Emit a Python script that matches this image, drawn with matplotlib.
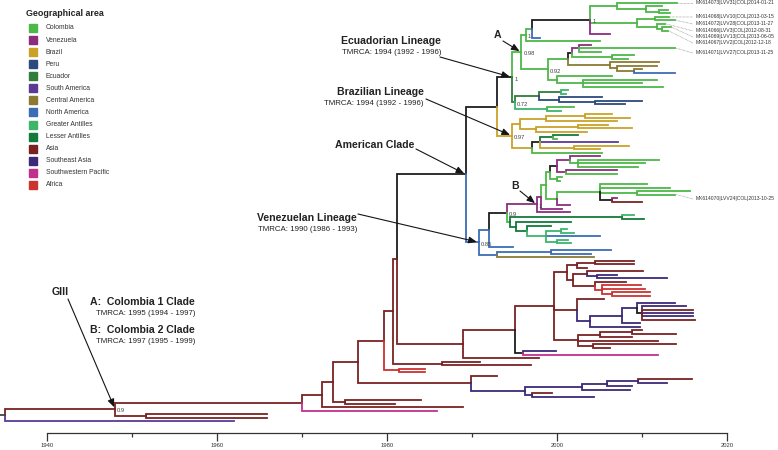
import matplotlib
matplotlib.use("Agg")
import matplotlib.pyplot as plt
from matplotlib.collections import LineCollection
from matplotlib.patches import Rectangle

plt.rcParams['font.family'] = ['Liberation Sans', 'DejaVu Sans']

# legend / region colours
region_names = ['Colombia', 'Venezuela', 'Brazil', 'Peru', 'Ecuador', 'South America',
                'Central America', 'North America', 'Greater Antilles', 'Lesser Antilles',
                'Asia', 'Southeast Asia', 'Southwestern Pacific', 'Africa']
region_codes = ['COL', 'VEN', 'BRA', 'PER', 'ECU', 'SAM', 'CAM', 'NAM', 'GAN', 'LAN',
                'ASI', 'SEA', 'SWP', 'AFR']
region_colors = ['#4db848', '#8b2d7d', '#c9a227', '#2c4a7c', '#2e7d3b', '#5b3a96',
                 '#8c7a32', '#3a6db5', '#3db56b', '#127a3a', '#7a2222', '#3a2a78',
                 '#c2308e', '#cc3330']
col = dict(zip(region_codes, region_colors))
col['UNK'] = '#1e1e1e'


def T(year, c, tip=None):
    return {'t': year, 'c': c, 'kids': [], 'lab': None, 'name': None, 'tip': tip}


def N(year, c, *kids, lab=None, name=None):
    return {'t': year, 'c': c, 'kids': list(kids), 'lab': lab, 'name': name, 'tip': None}


# ---- tree (node dates in years, branch colour = region) ----
clade_A = N(1995.8, 'COL',
    N(1996.3, 'COL',
        N(1997.0, 'COL',
            N(2003.9, 'UNK',
                N(2007.0, 'COL',
                    T(2014.1, 'COL', tip='MK614073|LVV31|COL|2014-01-21'),
                    N(2010.5, 'COL',
                        T(2012.3, 'COL'),
                        N(2012.0, 'COL', T(2013.0, 'COL'), T(2013.3, 'COL')))),
                N(2009.4, 'COL',
                    N(2011.5, 'COL',
                        T(2013.2, 'COL', tip='MK614068|LVV10|COL|2013-03-15'),
                        T(2013.9, 'COL', tip='MK614072|LVV28|COL|2013-11-27')),
                    N(2011.8, 'COL',
                        T(2012.7, 'COL', tip='MK614066|LVV3|COL|2012-08-31'),
                        N(2012.3, 'COL',
                            T(2013.4, 'COL', tip='MK614069|LVV13|COL|2013-06-05'),
                            T(2013.0, 'COL', tip='MK614067|LVV2|COL|2012-12-18')))),
                T(2006.2, 'VEN'), lab='1'),
            T(1998.0, 'NAM')),
        T(2005.0, 'COL'), lab='1'),
    N(1998.9, 'COL',
        N(2001.3, 'COL',
            N(2001.8, 'UNK',
                N(2002.6, 'VEN',
                    T(2004.0, 'VEN'),
                    T(2013.9, 'COL', tip='MK614071|LVV27|COL|2013-11-25'),
                    T(2005.2, 'COL')),
                N(2006.5, 'COL', T(2009.0, 'COL'), T(2008.3, 'COL'))),
            N(2006.2, 'CAM',
                T(2012.0, 'CAM'),
                N(2007.0, 'CAM',
                    T(2011.8, 'CAM'),
                    N(2009.0, 'CAM', T(2010.0, 'CAM'), T(2013.9, 'NAM'))))),
        N(2000.0, 'COL',
            T(2006.5, 'COL'),
            N(2003.0, 'COL', T(2011.8, 'COL'), T(2010.0, 'COL'), T(2012.5, 'COL'))),
        lab='0.92'),
    lab='0.98', name='A')

ecu_sub = N(1995.0, 'ECU',
    N(1997.9, 'ECU',
        N(2000.5, 'ECU', T(2001.3, 'GAN'), T(2001.0, 'GAN')),
        N(2000.2, 'PER', T(2005.3, 'PER'),
          N(2004.5, 'PER', T(2010.0, 'PER'), T(2008.0, 'PER')))),
    N(1998.8, 'GAN', T(2002.0, 'COL'), T(2000.5, 'GAN')),
    lab='0.72')

brazil = N(1994.7, 'BRA',
    N(1995.7, 'BRA',
        N(1998.7, 'BRA',
            N(2003.3, 'BRA', T(2006.5, 'BRA'), T(2008.6, 'BRA')),
            T(2007.0, 'BRA')),
        N(1997.5, 'BRA',
            N(2002.5, 'BRA', T(2006.0, 'BRA'), T(2008.8, 'BRA')),
            T(2003.5, 'BRA'))),
    N(1997.0, 'BRA',
        N(1998.0, 'UNK',
            N(1999.5, 'LAN', T(2002.5, 'LAN'), T(2000.0, 'COL')),
            T(2007.2, 'SAM'),
            N(2002.0, 'BRA', T(2008.5, 'BRA'), T(2005.0, 'BRA'))),
        T(2005.3, 'COL')),
    lab='0.97', name='bra')

ecuador = N(1994.7, 'UNK', clade_A, ecu_sub, lab='1', name='ecu')

clade_B = N(1997.6, 'VEN',
    N(1998.1, 'VEN',
        N(1998.7, 'COL',
            N(1999.2, 'COL',
                N(2000.0, 'UNK',
                    N(2001.5, 'VEN', T(2005.0, 'VEN'),
                      N(2002.5, 'COL', T(2012.0, 'COL'), T(2010.4, 'COL'), T(2009.5, 'COL'))),
                    N(2001.0, 'VEN', T(2007.1, 'VEN'), T(2007.1, 'COL'))),
                N(2000.0, 'COL', T(2000.6, 'COL'), T(2000.4, 'COL'))),
            N(2000.0, 'COL',
                N(2005.0, 'COL',
                    T(2010.6, 'COL'),
                    T(2013.3, 'COL'),
                    N(2009.4, 'COL', T(2015.6, 'COL'),
                      T(2013.9, 'COL', tip='MK614070|LVV24|COL|2013-10-25')),
                    N(2006.5, 'UNK', T(2007.0, 'VEN'), T(2010.0, 'ASI'))),
                T(2001.5, 'VEN'))),
        T(2000.6, 'VEN')),
    T(2001.5, 'VEN'),
    lab='1', name='B')

venez = N(1990.8, 'NAM',
    N(1992.0, 'NAM',
        N(1994.1, 'UNK',
            clade_B,
            N(1994.5, 'COL',
                N(2007.7, 'LAN', T(2009.0, 'GAN'), T(2010.2, 'LAN')),
                N(1995.2, 'LAN',
                    T(2001.7, 'LAN'),
                    N(1996.5, 'LAN',
                        T(1999.3, 'LAN'),
                        N(1998.7, 'GAN',
                            N(2000.5, 'GAN', T(2001.2, 'GAN'), T(2002.0, 'GAN')),
                            T(2005.1, 'NAM'),
                            N(2000.0, 'GAN', T(2001.3, 'GAN'), T(2001.6, 'GAN')))))),
            lab='0.9'),
        T(1994.8, 'NAM')),
    N(1992.9, 'NAM',
        N(1999.3, 'NAM', T(2006.4, 'NAM'), T(2004.0, 'NAM')),
        T(2004.3, 'CAM')),
    lab='0.85', name='ven')

american = N(1989.3, 'UNK', N(1992.9, 'UNK', ecuador, brazil), venez, name='am')

asia_p1 = N(2001.2, 'ASI',
    N(2002.4, 'ASI',
        N(2004.5, 'ASI', T(2009.0, 'ASI'), T(2009.0, 'ASI')),
        T(2003.5, 'ASI')),
    N(2001.9, 'ASI',
        N(2003.5, 'ASI', T(2010.1, 'ASI'),
          N(2004.7, 'SEA', T(2007.1, 'SEA'), T(2012.9, 'SEA'))),
        N(2004.5, 'ASI', T(2008.1, 'ASI'),
          N(2005.3, 'AFR', T(2009.9, 'AFR'), T(2010.3, 'AFR'),
            N(2006.5, 'AFR', T(2010.9, 'AFR'), T(2010.9, 'AFR'))))))

asia_p2 = N(2002.4, 'ASI',
    T(2005.5, 'ASI'),
    N(2003.9, 'SEA',
        N(2007.6, 'SEA',
            N(2009.4, 'SEA',
                T(2013.9, 'SEA'),
                N(2010.0, 'UNK', T(2015.2, 'SEA'), T(2016.0, 'ASI'), T(2016.0, 'SEA'),
                  T(2016.0, 'SEA'), T(2016.2, 'ASI'))),
            T(2009.8, 'SEA')),
        T(2009.8, 'SEA')))

asia_p3 = N(2002.5, 'ASI',
    N(2005.1, 'ASI', N(2008.8, 'ASI', T(2010.0, 'ASI'), T(2014.0, 'ASI')), T(2008.8, 'ASI')),
    T(2011.9, 'ASI'),
    N(2004.2, 'ASI', T(2014.0, 'ASI'), T(2006.2, 'ASI')))

asia_main = N(1988.9, 'ASI',
    N(1995.1, 'ASI',
        N(1999.6, 'ASI', asia_p1, asia_p2, asia_p3),
        N(1996.0, 'UNK', T(1999.9, 'SEA'), T(2011.9, 'SWP'))),
    T(1997.9, 'ASI'))

sea_clade = N(1989.9, 'ASI', T(1992.9, 'ASI'),
    N(1996.2, 'SEA',
        N(2002.9, 'SEA',
            N(2005.9, 'SEA', N(2009.5, 'SEA', T(2015.9, 'ASI'), T(2012.9, 'SEA')), T(2008.8, 'SEA')),
            T(2008.6, 'SEA')),
        N(1997.1, 'SEA', T(1999.4, 'ASI'), T(2004.4, 'SEA'))))

backbone = N(1976.6, 'ASI',
    N(1979.6, 'ASI',
        N(1980.7, 'ASI',
            N(1981.2, 'ASI', american, asia_main),
            N(1986.5, 'ASI', T(1990.9, 'ASI'), T(1996.9, 'ASI'))),
        N(1981.4, 'AFR', T(1984.5, 'AFR'), T(1984.5, 'AFR'))),
    sea_clade)

giii = N(1948.0, 'ASI',
    N(1970.0, 'ASI',
        N(1972.4, 'ASI',
            N(1973.6, 'ASI', backbone, N(1975.0, 'ASI', T(1984.0, 'ASI'), T(1980.9, 'ASI'))),
            T(1988.9, 'ASI')),
        T(1985.9, 'SWP')),
    N(1951.6, 'ASI', T(1965.9, 'ASI'), T(1965.9, 'ASI')),
    lab='0.9', name='giii')

root = N(1935.1, 'ASI', giii, T(1962.0, 'SAM'))

tip_label_py = [3, 17, 24, 31, 37, 43, 53, 199]

# ---- layout ----
tips, named, labelled, segs, cols = [], {}, [], [], []


def place(n):
    if not n['kids']:
        n['y'] = len(tips)
        tips.append(n)
    else:
        for k in n['kids']:
            place(k)
        n['y'] = (n['kids'][0]['y'] + n['kids'][-1]['y']) / 2
    if n['name']:
        named[n['name']] = n
    if n['lab']:
        labelled.append(n)


def walk(n):
    for k in n['kids']:
        segs.append([(n['t'], n['y']), (n['t'], k['y']), (k['t'], k['y'])])
        cols.append(col[k['c']])
        walk(k)


place(root)
walk(root)

W, H = 778, 450
px_per_year = 8.5
x0 = 1940 - 47 / px_per_year
sp = 418 / (len(tips) - 1)


def xd(px):
    return x0 + px / px_per_year


def yd(py):
    return (py - 3) / sp


fig = plt.figure(figsize=(W / 100, H / 100), dpi=100)
ax = fig.add_axes([0, 17 / H, 1, 433 / H])
ax.set_xlim(xd(0), xd(W))
ax.set_ylim(yd(433), yd(0))

ax.add_collection(LineCollection(segs, colors=cols, linewidths=1.3,
                                 capstyle='projecting', joinstyle='miter'))
ax.plot([root['t'] - 0.8, root['t']], [root['y'], root['y']], color='#444444', lw=1.3)

for n in labelled:
    ax.text(n['t'] + 0.25, n['y'] + 0.5, n['lab'], fontsize=4.2, color='#444444',
            ha='left', va='center')

# tip labels with dotted leaders
tip_nodes = [t for t in tips if t['tip']]
for t, py in zip(tip_nodes, tip_label_py):
    ax.plot([t['t'] + 0.15, xd(693)], [t['y'], yd(py)], color='#8a8a8a', lw=0.5,
            ls=(0, (1, 1)))
    ax.text(xd(696), yd(py), t['tip'], fontsize=3.6, color='#333333', ha='left',
            va='center')

# clade annotations
arrow_kw = dict(arrowstyle='-|>,head_length=0.6,head_width=0.25', color='#151515',
                lw=0.8, mutation_scale=8, shrinkA=0, shrinkB=1.5)
clade_notes = [
    ('ecu', 'Ecuadorian Lineage', 'TMRCA: 1994 (1992 - 1996)', 441, 41, (440, 57)),
    ('bra', 'Brazilian Lineage', 'TMRCA: 1994 (1992 - 1996)', 424, 92, (426, 99)),
    ('am', 'American Clade', None, 414, 145, (416, 149)),
    ('ven', 'Venezuelan Lineage', 'TMRCA: 1990 (1986 - 1993)', 357, 218, (358, 214)),
]
for key, title, sub, right, ty, start in clade_notes:
    ax.text(xd(right), yd(ty), title, fontsize=7.6, fontweight='bold', ha='right',
            va='center', color='#222222')
    if sub:
        ax.text(xd(right), yd(ty + 12), sub, fontsize=5.7, ha='right', va='center',
                color='#222222')
    n = named[key]
    ax.annotate('', xy=(n['t'], n['y']), xytext=(xd(start[0]), yd(start[1])),
                arrowprops=arrow_kw)

letter_notes = [('A', 'A', 498, 35, (503, 41)), ('B', 'B', 515, 186, (520, 191)),
                ('giii', 'GIII', 60, 292, (68, 299))]
for key, txt, lx, ly, start in letter_notes:
    ax.text(xd(lx), yd(ly), txt, fontsize=7.6, fontweight='bold', ha='center',
            va='center', color='#222222')
    n = named[key]
    ax.annotate('', xy=(n['t'], n['y']), xytext=(xd(start[0]), yd(start[1])),
                arrowprops=arrow_kw)

side_notes = [('A:  Colombia 1 Clade', 'TMRCA: 1995 (1994 - 1997)', 302),
              ('B:  Colombia 2 Clade', 'TMRCA: 1997 (1995 - 1999)', 330)]
for title, sub, ty in side_notes:
    ax.text(xd(195), yd(ty), title, fontsize=7.6, fontweight='bold', ha='right',
            va='center', color='#222222')
    ax.text(xd(195), yd(ty + 12), sub, fontsize=5.7, ha='right', va='center',
            color='#222222')

# legend
ax.text(xd(26), yd(14), 'Geographical area', fontsize=6.4, fontweight='bold',
        ha='left', va='center', color='#222222')
for i, (name, c) in enumerate(zip(region_names, region_colors)):
    py = 28 + i * 12.07
    ax.add_patch(Rectangle((xd(29), yd(py - 4)), 8 / px_per_year, 8 / sp, color=c,
                           clip_on=False))
    ax.text(xd(46), yd(py), name, fontsize=4.9, ha='left', va='center',
            color='#333333')

# time axis
for side in ['top', 'right', 'left']:
    ax.spines[side].set_visible(False)
ax.spines['bottom'].set_bounds(1940, 2020)
ax.spines['bottom'].set_color('#333333')
ax.spines['bottom'].set_linewidth(0.9)
ax.set_xticks([1940, 1960, 1980, 2000, 2020])
ax.set_xticks([1950, 1970, 1990, 2010], minor=True)
ax.tick_params(axis='x', which='major', length=5.5, width=0.9, labelsize=4.2, pad=1.5,
               colors='#333333')
ax.tick_params(axis='x', which='minor', length=3, width=0.9, colors='#333333')
ax.set_yticks([])

fig.savefig('out.png', dpi=100)
